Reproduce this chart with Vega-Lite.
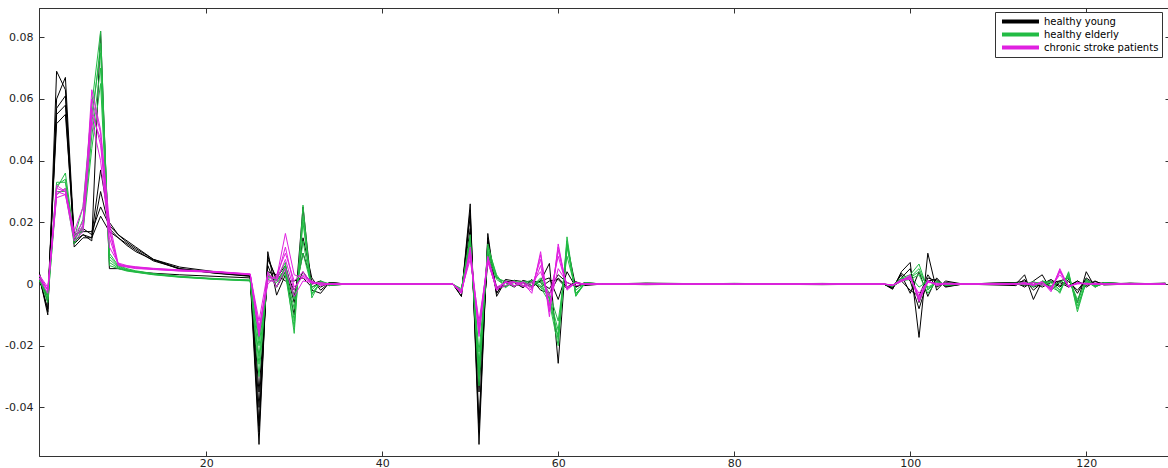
{
"$schema":"https://vega.github.io/schema/vega-lite/v6.json",
"width":1131,"height":448,
"autosize":{"type":"none"},
"padding":{"left":39,"top":8,"right":0,"bottom":12},
"background":"#ffffff",
"datasets":{
"subjects":[
{"s":"y1","group":"healthy young"},{"s":"y2","group":"healthy young"},{"s":"y3","group":"healthy young"},{"s":"y4","group":"healthy young"},{"s":"y5","group":"healthy young"},
{"s":"e1","group":"healthy elderly"},{"s":"e2","group":"healthy elderly"},{"s":"e3","group":"healthy elderly"},{"s":"e4","group":"healthy elderly"},{"s":"e5","group":"healthy elderly"},
{"s":"c1","group":"chronic stroke patients"},{"s":"c2","group":"chronic stroke patients"},{"s":"c3","group":"chronic stroke patients"},{"s":"c4","group":"chronic stroke patients"},{"s":"c5","group":"chronic stroke patients"}
],
"curves":[
{"s":"y1","x":1,"y":0.003},{"s":"y1","x":2,"y":-0.010},{"s":"y1","x":3,"y":0.069},{"s":"y1","x":4,"y":0.063},{"s":"y1","x":5,"y":0.013},{"s":"y1","x":6,"y":0.016},{"s":"y1","x":7,"y":0.014},{"s":"y1","x":8,"y":0.082},{"s":"y1","x":9,"y":0.005},{"s":"y1","x":10,"y":0.005},{"s":"y1","x":11,"y":0.0045},{"s":"y1","x":12,"y":0.004},{"s":"y1","x":14,"y":0.0035},{"s":"y1","x":17,"y":0.003},{"s":"y1","x":21,"y":0.0025},{"s":"y1","x":25,"y":0.002},{"s":"y1","x":26,"y":-0.052},{"s":"y1","x":27,"y":0.0105},{"s":"y1","x":28,"y":-0.0036},{"s":"y1","x":29,"y":0.003},{"s":"y1","x":30,"y":-0.010},{"s":"y1","x":31,"y":0.025},{"s":"y1","x":32,"y":-0.002},{"s":"y1","x":33,"y":-0.003},{"s":"y1","x":34,"y":0.0005},{"s":"y1","x":36,"y":0},{"s":"y1","x":47,"y":0},{"s":"y1","x":48,"y":0.0002},{"s":"y1","x":49,"y":-0.004},{"s":"y1","x":50,"y":0.026},{"s":"y1","x":51,"y":-0.052},{"s":"y1","x":52,"y":0.0164},{"s":"y1","x":53,"y":-0.004},{"s":"y1","x":54,"y":0.001},{"s":"y1","x":55,"y":-0.0008},{"s":"y1","x":56,"y":0.0005},{"s":"y1","x":57,"y":-0.001},{"s":"y1","x":58,"y":0.001},{"s":"y1","x":59,"y":0.0067},{"s":"y1","x":60,"y":-0.0257},{"s":"y1","x":61,"y":0.013},{"s":"y1","x":62,"y":-0.001},{"s":"y1","x":63,"y":0.0005},{"s":"y1","x":65,"y":0},{"s":"y1","x":70,"y":0.0003},{"s":"y1","x":80,"y":0},{"s":"y1","x":90,"y":0.0002},{"s":"y1","x":97,"y":0},{"s":"y1","x":98,"y":-0.0017},{"s":"y1","x":99,"y":0.004},{"s":"y1","x":100,"y":0.007},{"s":"y1","x":101,"y":-0.0173},{"s":"y1","x":102,"y":0.010},{"s":"y1","x":103,"y":-0.002},{"s":"y1","x":104,"y":0.001},{"s":"y1","x":106,"y":0},{"s":"y1","x":112,"y":0},{"s":"y1","x":113,"y":0.003},{"s":"y1","x":114,"y":-0.005},{"s":"y1","x":115,"y":0.001},{"s":"y1","x":116,"y":-0.001},{"s":"y1","x":117,"y":0.001},{"s":"y1","x":118,"y":0.002},{"s":"y1","x":119,"y":-0.006},{"s":"y1","x":120,"y":0.004},{"s":"y1","x":121,"y":-0.001},{"s":"y1","x":122,"y":0.0005},{"s":"y1","x":125,"y":0},{"s":"y1","x":129,"y":0.0003},
{"s":"y2","x":1,"y":0.002},{"s":"y2","x":2,"y":-0.008},{"s":"y2","x":3,"y":0.060},{"s":"y2","x":4,"y":0.067},{"s":"y2","x":5,"y":0.015},{"s":"y2","x":6,"y":0.018},{"s":"y2","x":7,"y":0.016},{"s":"y2","x":8,"y":0.037},{"s":"y2","x":9,"y":0.020},{"s":"y2","x":10,"y":0.016},{"s":"y2","x":11,"y":0.014},{"s":"y2","x":12,"y":0.012},{"s":"y2","x":14,"y":0.008},{"s":"y2","x":17,"y":0.0055},{"s":"y2","x":21,"y":0.004},{"s":"y2","x":25,"y":0.003},{"s":"y2","x":26,"y":-0.046},{"s":"y2","x":27,"y":0.008},{"s":"y2","x":28,"y":0.002},{"s":"y2","x":29,"y":0.006},{"s":"y2","x":30,"y":-0.004},{"s":"y2","x":31,"y":0.010},{"s":"y2","x":32,"y":0.001},{"s":"y2","x":33,"y":-0.001},{"s":"y2","x":34,"y":0.0005},{"s":"y2","x":36,"y":0},{"s":"y2","x":47,"y":0},{"s":"y2","x":48,"y":0},{"s":"y2","x":49,"y":-0.003},{"s":"y2","x":50,"y":0.022},{"s":"y2","x":51,"y":-0.045},{"s":"y2","x":52,"y":0.014},{"s":"y2","x":53,"y":-0.003},{"s":"y2","x":54,"y":0.0015},{"s":"y2","x":55,"y":0.001},{"s":"y2","x":56,"y":-0.001},{"s":"y2","x":57,"y":0.0015},{"s":"y2","x":58,"y":-0.002},{"s":"y2","x":59,"y":-0.003},{"s":"y2","x":60,"y":0.002},{"s":"y2","x":61,"y":-0.001},{"s":"y2","x":62,"y":0.0008},{"s":"y2","x":63,"y":-0.0005},{"s":"y2","x":65,"y":0},{"s":"y2","x":70,"y":0},{"s":"y2","x":80,"y":0.0002},{"s":"y2","x":90,"y":0},{"s":"y2","x":97,"y":0},{"s":"y2","x":98,"y":-0.001},{"s":"y2","x":99,"y":0.003},{"s":"y2","x":100,"y":-0.003},{"s":"y2","x":101,"y":0.004},{"s":"y2","x":102,"y":-0.004},{"s":"y2","x":103,"y":0.002},{"s":"y2","x":104,"y":-0.001},{"s":"y2","x":106,"y":0},{"s":"y2","x":112,"y":0.0005},{"s":"y2","x":113,"y":-0.001},{"s":"y2","x":114,"y":0.001},{"s":"y2","x":115,"y":0.003},{"s":"y2","x":116,"y":-0.002},{"s":"y2","x":117,"y":0.0005},{"s":"y2","x":118,"y":-0.001},{"s":"y2","x":119,"y":0.001},{"s":"y2","x":120,"y":-0.001},{"s":"y2","x":121,"y":0.0008},{"s":"y2","x":122,"y":0},{"s":"y2","x":125,"y":0.0003},{"s":"y2","x":129,"y":0},
{"s":"y3","x":1,"y":0.004},{"s":"y3","x":2,"y":-0.006},{"s":"y3","x":3,"y":0.055},{"s":"y3","x":4,"y":0.058},{"s":"y3","x":5,"y":0.012},{"s":"y3","x":6,"y":0.015},{"s":"y3","x":7,"y":0.015},{"s":"y3","x":8,"y":0.030},{"s":"y3","x":9,"y":0.018},{"s":"y3","x":10,"y":0.015},{"s":"y3","x":11,"y":0.013},{"s":"y3","x":12,"y":0.011},{"s":"y3","x":14,"y":0.0075},{"s":"y3","x":17,"y":0.005},{"s":"y3","x":21,"y":0.0035},{"s":"y3","x":25,"y":0.0025},{"s":"y3","x":26,"y":-0.040},{"s":"y3","x":27,"y":0.006},{"s":"y3","x":28,"y":-0.001},{"s":"y3","x":29,"y":0.004},{"s":"y3","x":30,"y":-0.002},{"s":"y3","x":31,"y":0.004},{"s":"y3","x":32,"y":0},{"s":"y3","x":33,"y":0.001},{"s":"y3","x":34,"y":-0.0005},{"s":"y3","x":36,"y":0},{"s":"y3","x":47,"y":0},{"s":"y3","x":48,"y":0},{"s":"y3","x":49,"y":-0.002},{"s":"y3","x":50,"y":0.018},{"s":"y3","x":51,"y":-0.035},{"s":"y3","x":52,"y":0.010},{"s":"y3","x":53,"y":-0.001},{"s":"y3","x":54,"y":-0.0008},{"s":"y3","x":55,"y":0.0012},{"s":"y3","x":56,"y":0.0008},{"s":"y3","x":57,"y":-0.0005},{"s":"y3","x":58,"y":0.001},{"s":"y3","x":59,"y":0.002},{"s":"y3","x":60,"y":-0.005},{"s":"y3","x":61,"y":0.004},{"s":"y3","x":62,"y":-0.001},{"s":"y3","x":63,"y":0.0003},{"s":"y3","x":65,"y":0},{"s":"y3","x":70,"y":0.0002},{"s":"y3","x":80,"y":0},{"s":"y3","x":90,"y":-0.0002},{"s":"y3","x":97,"y":0},{"s":"y3","x":98,"y":-0.0012},{"s":"y3","x":99,"y":0.002},{"s":"y3","x":100,"y":0.005},{"s":"y3","x":101,"y":-0.006},{"s":"y3","x":102,"y":0.002},{"s":"y3","x":103,"y":0.001},{"s":"y3","x":104,"y":-0.0005},{"s":"y3","x":106,"y":0},{"s":"y3","x":112,"y":-0.0005},{"s":"y3","x":113,"y":0.0015},{"s":"y3","x":114,"y":-0.002},{"s":"y3","x":115,"y":0.0005},{"s":"y3","x":116,"y":0.001},{"s":"y3","x":117,"y":-0.001},{"s":"y3","x":118,"y":0.0015},{"s":"y3","x":119,"y":-0.003},{"s":"y3","x":120,"y":0.002},{"s":"y3","x":121,"y":0},{"s":"y3","x":122,"y":0.0004},{"s":"y3","x":125,"y":0},{"s":"y3","x":129,"y":0},
{"s":"y4","x":1,"y":0.001},{"s":"y4","x":2,"y":-0.004},{"s":"y4","x":3,"y":0.052},{"s":"y4","x":4,"y":0.055},{"s":"y4","x":5,"y":0.016},{"s":"y4","x":6,"y":0.017},{"s":"y4","x":7,"y":0.017},{"s":"y4","x":8,"y":0.025},{"s":"y4","x":9,"y":0.019},{"s":"y4","x":10,"y":0.016},{"s":"y4","x":11,"y":0.0135},{"s":"y4","x":12,"y":0.0115},{"s":"y4","x":14,"y":0.008},{"s":"y4","x":17,"y":0.005},{"s":"y4","x":21,"y":0.0038},{"s":"y4","x":25,"y":0.0028},{"s":"y4","x":26,"y":-0.035},{"s":"y4","x":27,"y":0.004},{"s":"y4","x":28,"y":0.003},{"s":"y4","x":29,"y":0.001},{"s":"y4","x":30,"y":0.001},{"s":"y4","x":31,"y":0.002},{"s":"y4","x":32,"y":-0.001},{"s":"y4","x":33,"y":0.0005},{"s":"y4","x":34,"y":0},{"s":"y4","x":36,"y":0},{"s":"y4","x":47,"y":0},{"s":"y4","x":48,"y":0},{"s":"y4","x":49,"y":-0.003},{"s":"y4","x":50,"y":0.015},{"s":"y4","x":51,"y":-0.030},{"s":"y4","x":52,"y":0.008},{"s":"y4","x":53,"y":-0.002},{"s":"y4","x":54,"y":0.0005},{"s":"y4","x":55,"y":-0.001},{"s":"y4","x":56,"y":0.0012},{"s":"y4","x":57,"y":0.0004},{"s":"y4","x":58,"y":-0.001},{"s":"y4","x":59,"y":0.001},{"s":"y4","x":60,"y":0.0015},{"s":"y4","x":61,"y":-0.0015},{"s":"y4","x":62,"y":0.0005},{"s":"y4","x":63,"y":0},{"s":"y4","x":65,"y":0},{"s":"y4","x":70,"y":0},{"s":"y4","x":80,"y":0},{"s":"y4","x":90,"y":0.0001},{"s":"y4","x":97,"y":0},{"s":"y4","x":98,"y":-0.0008},{"s":"y4","x":99,"y":0.001},{"s":"y4","x":100,"y":-0.002},{"s":"y4","x":101,"y":-0.004},{"s":"y4","x":102,"y":0.003},{"s":"y4","x":103,"y":-0.001},{"s":"y4","x":104,"y":0.0005},{"s":"y4","x":106,"y":0},{"s":"y4","x":112,"y":0.0005},{"s":"y4","x":113,"y":0.001},{"s":"y4","x":114,"y":-0.001},{"s":"y4","x":115,"y":0},{"s":"y4","x":116,"y":0.0015},{"s":"y4","x":117,"y":-0.0005},{"s":"y4","x":118,"y":0.0008},{"s":"y4","x":119,"y":-0.002},{"s":"y4","x":120,"y":0.0015},{"s":"y4","x":121,"y":-0.0005},{"s":"y4","x":122,"y":0},{"s":"y4","x":125,"y":0.0002},{"s":"y4","x":129,"y":0},
{"s":"y5","x":1,"y":0.003},{"s":"y5","x":2,"y":-0.009},{"s":"y5","x":3,"y":0.057},{"s":"y5","x":4,"y":0.061},{"s":"y5","x":5,"y":0.014},{"s":"y5","x":6,"y":0.016},{"s":"y5","x":7,"y":0.015},{"s":"y5","x":8,"y":0.022},{"s":"y5","x":9,"y":0.017},{"s":"y5","x":10,"y":0.015},{"s":"y5","x":11,"y":0.0125},{"s":"y5","x":12,"y":0.0105},{"s":"y5","x":14,"y":0.0078},{"s":"y5","x":17,"y":0.0048},{"s":"y5","x":21,"y":0.0036},{"s":"y5","x":25,"y":0.0026},{"s":"y5","x":26,"y":-0.048},{"s":"y5","x":27,"y":0.009},{"s":"y5","x":28,"y":0.001},{"s":"y5","x":29,"y":0.005},{"s":"y5","x":30,"y":-0.006},{"s":"y5","x":31,"y":0.015},{"s":"y5","x":32,"y":0.002},{"s":"y5","x":33,"y":-0.002},{"s":"y5","x":34,"y":0.0004},{"s":"y5","x":36,"y":0},{"s":"y5","x":47,"y":0},{"s":"y5","x":48,"y":0.0001},{"s":"y5","x":49,"y":-0.004},{"s":"y5","x":50,"y":0.024},{"s":"y5","x":51,"y":-0.048},{"s":"y5","x":52,"y":0.015},{"s":"y5","x":53,"y":-0.003},{"s":"y5","x":54,"y":0.001},{"s":"y5","x":55,"y":0.0005},{"s":"y5","x":56,"y":-0.0012},{"s":"y5","x":57,"y":0.001},{"s":"y5","x":58,"y":0.0005},{"s":"y5","x":59,"y":-0.0015},{"s":"y5","x":60,"y":0.003},{"s":"y5","x":61,"y":0.0005},{"s":"y5","x":62,"y":-0.0008},{"s":"y5","x":63,"y":0.0002},{"s":"y5","x":65,"y":0},{"s":"y5","x":70,"y":-0.0002},{"s":"y5","x":80,"y":0.0001},{"s":"y5","x":90,"y":0},{"s":"y5","x":97,"y":0},{"s":"y5","x":98,"y":-0.0015},{"s":"y5","x":99,"y":0.0035},{"s":"y5","x":100,"y":0.001},{"s":"y5","x":101,"y":-0.008},{"s":"y5","x":102,"y":0.001},{"s":"y5","x":103,"y":0.0015},{"s":"y5","x":104,"y":-0.0008},{"s":"y5","x":106,"y":0},{"s":"y5","x":112,"y":0},{"s":"y5","x":113,"y":-0.0005},{"s":"y5","x":114,"y":0.0005},{"s":"y5","x":115,"y":-0.001},{"s":"y5","x":116,"y":0.0005},{"s":"y5","x":117,"y":0.001},{"s":"y5","x":118,"y":-0.0005},{"s":"y5","x":119,"y":0.001},{"s":"y5","x":120,"y":-0.0005},{"s":"y5","x":121,"y":0.001},{"s":"y5","x":122,"y":-0.0003},{"s":"y5","x":125,"y":0},{"s":"y5","x":129,"y":0.0002},
{"s":"e1","x":1,"y":0.002},{"s":"e1","x":2,"y":-0.006},{"s":"e1","x":3,"y":0.031},{"s":"e1","x":4,"y":0.036},{"s":"e1","x":5,"y":0.015},{"s":"e1","x":6,"y":0.025},{"s":"e1","x":7,"y":0.058},{"s":"e1","x":8,"y":0.082},{"s":"e1","x":9,"y":0.006},{"s":"e1","x":10,"y":0.005},{"s":"e1","x":11,"y":0.0042},{"s":"e1","x":12,"y":0.0038},{"s":"e1","x":14,"y":0.003},{"s":"e1","x":17,"y":0.0022},{"s":"e1","x":21,"y":0.0015},{"s":"e1","x":25,"y":0.001},{"s":"e1","x":26,"y":-0.0235},{"s":"e1","x":27,"y":0.003},{"s":"e1","x":28,"y":0.001},{"s":"e1","x":29,"y":0.005},{"s":"e1","x":30,"y":-0.016},{"s":"e1","x":31,"y":0.0256},{"s":"e1","x":32,"y":-0.0045},{"s":"e1","x":33,"y":0.001},{"s":"e1","x":34,"y":-0.0005},{"s":"e1","x":36,"y":0},{"s":"e1","x":47,"y":0},{"s":"e1","x":48,"y":0},{"s":"e1","x":49,"y":-0.002},{"s":"e1","x":50,"y":0.015},{"s":"e1","x":51,"y":-0.030},{"s":"e1","x":52,"y":0.012},{"s":"e1","x":53,"y":0.003},{"s":"e1","x":54,"y":-0.001},{"s":"e1","x":55,"y":0.0012},{"s":"e1","x":56,"y":-0.0005},{"s":"e1","x":57,"y":0.0008},{"s":"e1","x":58,"y":-0.001},{"s":"e1","x":59,"y":-0.006},{"s":"e1","x":60,"y":-0.020},{"s":"e1","x":61,"y":0.0153},{"s":"e1","x":62,"y":-0.004},{"s":"e1","x":63,"y":0.0005},{"s":"e1","x":65,"y":0},{"s":"e1","x":70,"y":0},{"s":"e1","x":80,"y":0.0002},{"s":"e1","x":90,"y":0},{"s":"e1","x":97,"y":0},{"s":"e1","x":98,"y":-0.0005},{"s":"e1","x":99,"y":0.002},{"s":"e1","x":100,"y":0.003},{"s":"e1","x":101,"y":0.0065},{"s":"e1","x":102,"y":-0.002},{"s":"e1","x":103,"y":0.0008},{"s":"e1","x":104,"y":-0.0005},{"s":"e1","x":106,"y":0},{"s":"e1","x":112,"y":0},{"s":"e1","x":113,"y":0.0005},{"s":"e1","x":114,"y":-0.001},{"s":"e1","x":115,"y":0.001},{"s":"e1","x":116,"y":0.0005},{"s":"e1","x":117,"y":-0.003},{"s":"e1","x":118,"y":0.004},{"s":"e1","x":119,"y":-0.009},{"s":"e1","x":120,"y":0.001},{"s":"e1","x":121,"y":-0.001},{"s":"e1","x":122,"y":0.0005},{"s":"e1","x":125,"y":0},{"s":"e1","x":129,"y":0},
{"s":"e2","x":1,"y":0.003},{"s":"e2","x":2,"y":-0.004},{"s":"e2","x":3,"y":0.033},{"s":"e2","x":4,"y":0.033},{"s":"e2","x":5,"y":0.014},{"s":"e2","x":6,"y":0.019},{"s":"e2","x":7,"y":0.052},{"s":"e2","x":8,"y":0.078},{"s":"e2","x":9,"y":0.008},{"s":"e2","x":10,"y":0.0055},{"s":"e2","x":11,"y":0.0045},{"s":"e2","x":12,"y":0.004},{"s":"e2","x":14,"y":0.0032},{"s":"e2","x":17,"y":0.0024},{"s":"e2","x":21,"y":0.0016},{"s":"e2","x":25,"y":0.0012},{"s":"e2","x":26,"y":-0.020},{"s":"e2","x":27,"y":0.002},{"s":"e2","x":28,"y":0.002},{"s":"e2","x":29,"y":0.007},{"s":"e2","x":30,"y":-0.012},{"s":"e2","x":31,"y":0.020},{"s":"e2","x":32,"y":-0.003},{"s":"e2","x":33,"y":0.0005},{"s":"e2","x":34,"y":0},{"s":"e2","x":36,"y":0},{"s":"e2","x":47,"y":0},{"s":"e2","x":48,"y":0},{"s":"e2","x":49,"y":-0.0025},{"s":"e2","x":50,"y":0.013},{"s":"e2","x":51,"y":-0.026},{"s":"e2","x":52,"y":0.010},{"s":"e2","x":53,"y":0.002},{"s":"e2","x":54,"y":0.0005},{"s":"e2","x":55,"y":-0.0008},{"s":"e2","x":56,"y":0.001},{"s":"e2","x":57,"y":-0.0005},{"s":"e2","x":58,"y":0.0015},{"s":"e2","x":59,"y":-0.004},{"s":"e2","x":60,"y":-0.015},{"s":"e2","x":61,"y":0.012},{"s":"e2","x":62,"y":-0.003},{"s":"e2","x":63,"y":0},{"s":"e2","x":65,"y":0},{"s":"e2","x":70,"y":0.0001},{"s":"e2","x":80,"y":0},{"s":"e2","x":90,"y":0.0001},{"s":"e2","x":97,"y":0},{"s":"e2","x":98,"y":-0.0008},{"s":"e2","x":99,"y":0.0015},{"s":"e2","x":100,"y":0.002},{"s":"e2","x":101,"y":0.004},{"s":"e2","x":102,"y":-0.001},{"s":"e2","x":103,"y":0.0005},{"s":"e2","x":104,"y":0},{"s":"e2","x":106,"y":0},{"s":"e2","x":112,"y":0.0003},{"s":"e2","x":113,"y":0},{"s":"e2","x":114,"y":0.0008},{"s":"e2","x":115,"y":-0.0005},{"s":"e2","x":116,"y":0.001},{"s":"e2","x":117,"y":-0.002},{"s":"e2","x":118,"y":0.003},{"s":"e2","x":119,"y":-0.007},{"s":"e2","x":120,"y":0.0005},{"s":"e2","x":121,"y":0},{"s":"e2","x":122,"y":0.0003},{"s":"e2","x":125,"y":0},{"s":"e2","x":129,"y":0},
{"s":"e3","x":1,"y":0.001},{"s":"e3","x":2,"y":-0.003},{"s":"e3","x":3,"y":0.030},{"s":"e3","x":4,"y":0.030},{"s":"e3","x":5,"y":0.013},{"s":"e3","x":6,"y":0.018},{"s":"e3","x":7,"y":0.048},{"s":"e3","x":8,"y":0.070},{"s":"e3","x":9,"y":0.010},{"s":"e3","x":10,"y":0.006},{"s":"e3","x":11,"y":0.005},{"s":"e3","x":12,"y":0.0043},{"s":"e3","x":14,"y":0.0034},{"s":"e3","x":17,"y":0.0025},{"s":"e3","x":21,"y":0.0018},{"s":"e3","x":25,"y":0.0013},{"s":"e3","x":26,"y":-0.018},{"s":"e3","x":27,"y":0.0015},{"s":"e3","x":28,"y":0.0005},{"s":"e3","x":29,"y":0.004},{"s":"e3","x":30,"y":-0.008},{"s":"e3","x":31,"y":0.014},{"s":"e3","x":32,"y":-0.002},{"s":"e3","x":33,"y":0.001},{"s":"e3","x":34,"y":0},{"s":"e3","x":36,"y":0},{"s":"e3","x":47,"y":0},{"s":"e3","x":48,"y":0},{"s":"e3","x":49,"y":-0.0015},{"s":"e3","x":50,"y":0.012},{"s":"e3","x":51,"y":-0.022},{"s":"e3","x":52,"y":0.009},{"s":"e3","x":53,"y":0.0015},{"s":"e3","x":54,"y":-0.0005},{"s":"e3","x":55,"y":0.0005},{"s":"e3","x":56,"y":0.0008},{"s":"e3","x":57,"y":-0.001},{"s":"e3","x":58,"y":0.002},{"s":"e3","x":59,"y":-0.003},{"s":"e3","x":60,"y":-0.012},{"s":"e3","x":61,"y":0.009},{"s":"e3","x":62,"y":-0.002},{"s":"e3","x":63,"y":0.0003},{"s":"e3","x":65,"y":0},{"s":"e3","x":70,"y":0},{"s":"e3","x":80,"y":-0.0001},{"s":"e3","x":90,"y":0},{"s":"e3","x":97,"y":0},{"s":"e3","x":98,"y":-0.0006},{"s":"e3","x":99,"y":0.001},{"s":"e3","x":100,"y":0.0015},{"s":"e3","x":101,"y":0.003},{"s":"e3","x":102,"y":-0.003},{"s":"e3","x":103,"y":0.001},{"s":"e3","x":104,"y":-0.0003},{"s":"e3","x":106,"y":0},{"s":"e3","x":112,"y":0},{"s":"e3","x":113,"y":0.0006},{"s":"e3","x":114,"y":-0.0004},{"s":"e3","x":115,"y":0.0008},{"s":"e3","x":116,"y":-0.0005},{"s":"e3","x":117,"y":0.0005},{"s":"e3","x":118,"y":0.002},{"s":"e3","x":119,"y":-0.005},{"s":"e3","x":120,"y":0.0012},{"s":"e3","x":121,"y":-0.0005},{"s":"e3","x":122,"y":0},{"s":"e3","x":125,"y":0.0002},{"s":"e3","x":129,"y":0},
{"s":"e4","x":1,"y":0.002},{"s":"e4","x":2,"y":-0.005},{"s":"e4","x":3,"y":0.029},{"s":"e4","x":4,"y":0.031},{"s":"e4","x":5,"y":0.016},{"s":"e4","x":6,"y":0.017},{"s":"e4","x":7,"y":0.044},{"s":"e4","x":8,"y":0.065},{"s":"e4","x":9,"y":0.007},{"s":"e4","x":10,"y":0.0052},{"s":"e4","x":11,"y":0.0044},{"s":"e4","x":12,"y":0.0039},{"s":"e4","x":14,"y":0.0031},{"s":"e4","x":17,"y":0.0023},{"s":"e4","x":21,"y":0.0016},{"s":"e4","x":25,"y":0.0011},{"s":"e4","x":26,"y":-0.030},{"s":"e4","x":27,"y":0.004},{"s":"e4","x":28,"y":-0.001},{"s":"e4","x":29,"y":0.006},{"s":"e4","x":30,"y":-0.005},{"s":"e4","x":31,"y":0.010},{"s":"e4","x":32,"y":-0.001},{"s":"e4","x":33,"y":0},{"s":"e4","x":34,"y":0.0003},{"s":"e4","x":36,"y":0},{"s":"e4","x":47,"y":0},{"s":"e4","x":48,"y":0},{"s":"e4","x":49,"y":-0.002},{"s":"e4","x":50,"y":0.014},{"s":"e4","x":51,"y":-0.028},{"s":"e4","x":52,"y":0.011},{"s":"e4","x":53,"y":0.0025},{"s":"e4","x":54,"y":-0.0012},{"s":"e4","x":55,"y":0.0008},{"s":"e4","x":56,"y":-0.0008},{"s":"e4","x":57,"y":0.0006},{"s":"e4","x":58,"y":0.0005},{"s":"e4","x":59,"y":-0.005},{"s":"e4","x":60,"y":-0.017},{"s":"e4","x":61,"y":0.013},{"s":"e4","x":62,"y":-0.0035},{"s":"e4","x":63,"y":0.0004},{"s":"e4","x":65,"y":0},{"s":"e4","x":70,"y":0.0002},{"s":"e4","x":80,"y":0},{"s":"e4","x":90,"y":0},{"s":"e4","x":97,"y":0},{"s":"e4","x":98,"y":-0.0004},{"s":"e4","x":99,"y":0.0012},{"s":"e4","x":100,"y":0.0025},{"s":"e4","x":101,"y":-0.001},{"s":"e4","x":102,"y":0.001},{"s":"e4","x":103,"y":-0.0005},{"s":"e4","x":104,"y":0.0003},{"s":"e4","x":106,"y":0},{"s":"e4","x":112,"y":0},{"s":"e4","x":113,"y":-0.0003},{"s":"e4","x":114,"y":0.0006},{"s":"e4","x":115,"y":0.0003},{"s":"e4","x":116,"y":-0.001},{"s":"e4","x":117,"y":-0.0025},{"s":"e4","x":118,"y":0.0035},{"s":"e4","x":119,"y":-0.008},{"s":"e4","x":120,"y":0.0008},{"s":"e4","x":121,"y":-0.0008},{"s":"e4","x":122,"y":0.0002},{"s":"e4","x":125,"y":0},{"s":"e4","x":129,"y":0},
{"s":"e5","x":1,"y":0.002},{"s":"e5","x":2,"y":-0.004},{"s":"e5","x":3,"y":0.032},{"s":"e5","x":4,"y":0.034},{"s":"e5","x":5,"y":0.014},{"s":"e5","x":6,"y":0.021},{"s":"e5","x":7,"y":0.055},{"s":"e5","x":8,"y":0.075},{"s":"e5","x":9,"y":0.009},{"s":"e5","x":10,"y":0.0058},{"s":"e5","x":11,"y":0.0047},{"s":"e5","x":12,"y":0.0041},{"s":"e5","x":14,"y":0.0033},{"s":"e5","x":17,"y":0.0024},{"s":"e5","x":21,"y":0.0017},{"s":"e5","x":25,"y":0.0012},{"s":"e5","x":26,"y":-0.026},{"s":"e5","x":27,"y":0.0025},{"s":"e5","x":28,"y":0.0015},{"s":"e5","x":29,"y":0.003},{"s":"e5","x":30,"y":-0.014},{"s":"e5","x":31,"y":0.022},{"s":"e5","x":32,"y":-0.0035},{"s":"e5","x":33,"y":0.0008},{"s":"e5","x":34,"y":0},{"s":"e5","x":36,"y":0},{"s":"e5","x":47,"y":0},{"s":"e5","x":48,"y":0},{"s":"e5","x":49,"y":-0.002},{"s":"e5","x":50,"y":0.016},{"s":"e5","x":51,"y":-0.033},{"s":"e5","x":52,"y":0.013},{"s":"e5","x":53,"y":0.002},{"s":"e5","x":54,"y":0.0008},{"s":"e5","x":55,"y":-0.0005},{"s":"e5","x":56,"y":0.0005},{"s":"e5","x":57,"y":0.0012},{"s":"e5","x":58,"y":-0.0005},{"s":"e5","x":59,"y":-0.0045},{"s":"e5","x":60,"y":-0.018},{"s":"e5","x":61,"y":0.014},{"s":"e5","x":62,"y":-0.0038},{"s":"e5","x":63,"y":0},{"s":"e5","x":65,"y":0},{"s":"e5","x":70,"y":0},{"s":"e5","x":80,"y":0.0001},{"s":"e5","x":90,"y":0},{"s":"e5","x":97,"y":0},{"s":"e5","x":98,"y":-0.0006},{"s":"e5","x":99,"y":0.0018},{"s":"e5","x":100,"y":0.0022},{"s":"e5","x":101,"y":0.005},{"s":"e5","x":102,"y":-0.0015},{"s":"e5","x":103,"y":0.0006},{"s":"e5","x":104,"y":-0.0002},{"s":"e5","x":106,"y":0},{"s":"e5","x":112,"y":0.0002},{"s":"e5","x":113,"y":0.0002},{"s":"e5","x":114,"y":-0.0006},{"s":"e5","x":115,"y":0.0005},{"s":"e5","x":116,"y":0.0008},{"s":"e5","x":117,"y":-0.002},{"s":"e5","x":118,"y":0.0025},{"s":"e5","x":119,"y":-0.006},{"s":"e5","x":120,"y":0.0015},{"s":"e5","x":121,"y":-0.0004},{"s":"e5","x":122,"y":0},{"s":"e5","x":125,"y":0},{"s":"e5","x":129,"y":0.0002},
{"s":"c1","x":1,"y":0.003},{"s":"c1","x":2,"y":-0.002},{"s":"c1","x":3,"y":0.032},{"s":"c1","x":4,"y":0.030},{"s":"c1","x":5,"y":0.015},{"s":"c1","x":6,"y":0.018},{"s":"c1","x":7,"y":0.063},{"s":"c1","x":8,"y":0.050},{"s":"c1","x":9,"y":0.020},{"s":"c1","x":10,"y":0.0065},{"s":"c1","x":11,"y":0.0058},{"s":"c1","x":12,"y":0.0055},{"s":"c1","x":14,"y":0.005},{"s":"c1","x":17,"y":0.0045},{"s":"c1","x":21,"y":0.004},{"s":"c1","x":25,"y":0.0032},{"s":"c1","x":26,"y":-0.017},{"s":"c1","x":27,"y":0.002},{"s":"c1","x":28,"y":0.002},{"s":"c1","x":29,"y":0.0164},{"s":"c1","x":30,"y":0.003},{"s":"c1","x":31,"y":0.002},{"s":"c1","x":32,"y":0.0005},{"s":"c1","x":33,"y":0},{"s":"c1","x":34,"y":0},{"s":"c1","x":36,"y":0},{"s":"c1","x":47,"y":0},{"s":"c1","x":48,"y":0},{"s":"c1","x":49,"y":-0.003},{"s":"c1","x":50,"y":0.012},{"s":"c1","x":51,"y":-0.017},{"s":"c1","x":52,"y":0.008},{"s":"c1","x":53,"y":-0.002},{"s":"c1","x":54,"y":0.0008},{"s":"c1","x":55,"y":-0.0005},{"s":"c1","x":56,"y":0.0005},{"s":"c1","x":57,"y":-0.003},{"s":"c1","x":58,"y":0.0105},{"s":"c1","x":59,"y":-0.0106},{"s":"c1","x":60,"y":0.013},{"s":"c1","x":61,"y":-0.002},{"s":"c1","x":62,"y":0.0005},{"s":"c1","x":63,"y":0},{"s":"c1","x":65,"y":0},{"s":"c1","x":70,"y":0},{"s":"c1","x":80,"y":0},{"s":"c1","x":90,"y":0},{"s":"c1","x":97,"y":0},{"s":"c1","x":98,"y":-0.0005},{"s":"c1","x":99,"y":0.001},{"s":"c1","x":100,"y":0.003},{"s":"c1","x":101,"y":-0.0057},{"s":"c1","x":102,"y":0.0008},{"s":"c1","x":103,"y":0},{"s":"c1","x":104,"y":0.0003},{"s":"c1","x":106,"y":0},{"s":"c1","x":112,"y":0},{"s":"c1","x":113,"y":0.0005},{"s":"c1","x":114,"y":-0.0005},{"s":"c1","x":115,"y":0.0008},{"s":"c1","x":116,"y":-0.0025},{"s":"c1","x":117,"y":0.005},{"s":"c1","x":118,"y":-0.001},{"s":"c1","x":119,"y":0.0005},{"s":"c1","x":120,"y":0},{"s":"c1","x":121,"y":0.0003},{"s":"c1","x":122,"y":0},{"s":"c1","x":125,"y":0},{"s":"c1","x":129,"y":0},
{"s":"c2","x":1,"y":0.002},{"s":"c2","x":2,"y":-0.003},{"s":"c2","x":3,"y":0.030},{"s":"c2","x":4,"y":0.029},{"s":"c2","x":5,"y":0.016},{"s":"c2","x":6,"y":0.020},{"s":"c2","x":7,"y":0.057},{"s":"c2","x":8,"y":0.045},{"s":"c2","x":9,"y":0.018},{"s":"c2","x":10,"y":0.006},{"s":"c2","x":11,"y":0.0055},{"s":"c2","x":12,"y":0.005},{"s":"c2","x":14,"y":0.0048},{"s":"c2","x":17,"y":0.0042},{"s":"c2","x":21,"y":0.0038},{"s":"c2","x":25,"y":0.003},{"s":"c2","x":26,"y":-0.014},{"s":"c2","x":27,"y":0.001},{"s":"c2","x":28,"y":0.001},{"s":"c2","x":29,"y":0.008},{"s":"c2","x":30,"y":-0.002},{"s":"c2","x":31,"y":0.003},{"s":"c2","x":32,"y":0.001},{"s":"c2","x":33,"y":-0.0005},{"s":"c2","x":34,"y":0},{"s":"c2","x":36,"y":0},{"s":"c2","x":47,"y":0},{"s":"c2","x":48,"y":0},{"s":"c2","x":49,"y":-0.0025},{"s":"c2","x":50,"y":0.010},{"s":"c2","x":51,"y":-0.015},{"s":"c2","x":52,"y":0.009},{"s":"c2","x":53,"y":-0.001},{"s":"c2","x":54,"y":0.0005},{"s":"c2","x":55,"y":0.0008},{"s":"c2","x":56,"y":-0.0008},{"s":"c2","x":57,"y":0.0005},{"s":"c2","x":58,"y":0.004},{"s":"c2","x":59,"y":-0.004},{"s":"c2","x":60,"y":0.009},{"s":"c2","x":61,"y":-0.001},{"s":"c2","x":62,"y":0.0003},{"s":"c2","x":63,"y":0},{"s":"c2","x":65,"y":0},{"s":"c2","x":70,"y":0},{"s":"c2","x":80,"y":0},{"s":"c2","x":90,"y":0},{"s":"c2","x":97,"y":0},{"s":"c2","x":98,"y":-0.0004},{"s":"c2","x":99,"y":0.0015},{"s":"c2","x":100,"y":0.0015},{"s":"c2","x":101,"y":-0.003},{"s":"c2","x":102,"y":0.001},{"s":"c2","x":103,"y":-0.0003},{"s":"c2","x":104,"y":0},{"s":"c2","x":106,"y":0},{"s":"c2","x":112,"y":0},{"s":"c2","x":113,"y":0},{"s":"c2","x":114,"y":0.0005},{"s":"c2","x":115,"y":-0.0003},{"s":"c2","x":116,"y":-0.001},{"s":"c2","x":117,"y":0.003},{"s":"c2","x":118,"y":-0.0005},{"s":"c2","x":119,"y":0},{"s":"c2","x":120,"y":0.0003},{"s":"c2","x":121,"y":0},{"s":"c2","x":122,"y":0},{"s":"c2","x":125,"y":0},{"s":"c2","x":129,"y":0},
{"s":"c3","x":1,"y":0.003},{"s":"c3","x":2,"y":-0.001},{"s":"c3","x":3,"y":0.028},{"s":"c3","x":4,"y":0.029},{"s":"c3","x":5,"y":0.014},{"s":"c3","x":6,"y":0.017},{"s":"c3","x":7,"y":0.053},{"s":"c3","x":8,"y":0.040},{"s":"c3","x":9,"y":0.015},{"s":"c3","x":10,"y":0.0062},{"s":"c3","x":11,"y":0.0056},{"s":"c3","x":12,"y":0.0052},{"s":"c3","x":14,"y":0.0047},{"s":"c3","x":17,"y":0.0043},{"s":"c3","x":21,"y":0.0039},{"s":"c3","x":25,"y":0.0031},{"s":"c3","x":26,"y":-0.012},{"s":"c3","x":27,"y":0.004},{"s":"c3","x":28,"y":-0.001},{"s":"c3","x":29,"y":0.005},{"s":"c3","x":30,"y":-0.004},{"s":"c3","x":31,"y":0.001},{"s":"c3","x":32,"y":0.0005},{"s":"c3","x":33,"y":0},{"s":"c3","x":34,"y":0},{"s":"c3","x":36,"y":0},{"s":"c3","x":47,"y":0},{"s":"c3","x":48,"y":0},{"s":"c3","x":49,"y":-0.002},{"s":"c3","x":50,"y":0.008},{"s":"c3","x":51,"y":-0.012},{"s":"c3","x":52,"y":0.007},{"s":"c3","x":53,"y":-0.0015},{"s":"c3","x":54,"y":-0.0005},{"s":"c3","x":55,"y":0.0005},{"s":"c3","x":56,"y":0.0003},{"s":"c3","x":57,"y":-0.0015},{"s":"c3","x":58,"y":0.006},{"s":"c3","x":59,"y":-0.007},{"s":"c3","x":60,"y":0.005},{"s":"c3","x":61,"y":0.0005},{"s":"c3","x":62,"y":-0.0005},{"s":"c3","x":63,"y":0},{"s":"c3","x":65,"y":0},{"s":"c3","x":70,"y":0},{"s":"c3","x":80,"y":0},{"s":"c3","x":90,"y":0},{"s":"c3","x":97,"y":0},{"s":"c3","x":98,"y":-0.0003},{"s":"c3","x":99,"y":0.0008},{"s":"c3","x":100,"y":0.002},{"s":"c3","x":101,"y":-0.004},{"s":"c3","x":102,"y":0.0005},{"s":"c3","x":103,"y":0.0003},{"s":"c3","x":104,"y":0},{"s":"c3","x":106,"y":0},{"s":"c3","x":112,"y":0.0002},{"s":"c3","x":113,"y":0},{"s":"c3","x":114,"y":-0.0003},{"s":"c3","x":115,"y":0.0005},{"s":"c3","x":116,"y":-0.002},{"s":"c3","x":117,"y":0.004},{"s":"c3","x":118,"y":-0.0008},{"s":"c3","x":119,"y":0.0003},{"s":"c3","x":120,"y":0},{"s":"c3","x":121,"y":0},{"s":"c3","x":122,"y":0},{"s":"c3","x":125,"y":0},{"s":"c3","x":129,"y":0},
{"s":"c4","x":1,"y":0.003},{"s":"c4","x":2,"y":-0.002},{"s":"c4","x":3,"y":0.031},{"s":"c4","x":4,"y":0.030},{"s":"c4","x":5,"y":0.017},{"s":"c4","x":6,"y":0.025},{"s":"c4","x":7,"y":0.055},{"s":"c4","x":8,"y":0.047},{"s":"c4","x":9,"y":0.012},{"s":"c4","x":10,"y":0.0068},{"s":"c4","x":11,"y":0.006},{"s":"c4","x":12,"y":0.0056},{"s":"c4","x":14,"y":0.0051},{"s":"c4","x":17,"y":0.0046},{"s":"c4","x":21,"y":0.0041},{"s":"c4","x":25,"y":0.0033},{"s":"c4","x":26,"y":-0.015},{"s":"c4","x":27,"y":0},{"s":"c4","x":28,"y":0.003},{"s":"c4","x":29,"y":0.010},{"s":"c4","x":30,"y":0.001},{"s":"c4","x":31,"y":0.004},{"s":"c4","x":32,"y":0},{"s":"c4","x":33,"y":0.0005},{"s":"c4","x":34,"y":0},{"s":"c4","x":36,"y":0},{"s":"c4","x":47,"y":0},{"s":"c4","x":48,"y":0},{"s":"c4","x":49,"y":-0.003},{"s":"c4","x":50,"y":0.011},{"s":"c4","x":51,"y":-0.014},{"s":"c4","x":52,"y":0.008},{"s":"c4","x":53,"y":-0.002},{"s":"c4","x":54,"y":0.001},{"s":"c4","x":55,"y":-0.0008},{"s":"c4","x":56,"y":0.0008},{"s":"c4","x":57,"y":-0.001},{"s":"c4","x":58,"y":0.008},{"s":"c4","x":59,"y":-0.009},{"s":"c4","x":60,"y":0.011},{"s":"c4","x":61,"y":-0.0015},{"s":"c4","x":62,"y":0.0004},{"s":"c4","x":63,"y":0},{"s":"c4","x":65,"y":0},{"s":"c4","x":70,"y":0},{"s":"c4","x":80,"y":0},{"s":"c4","x":90,"y":0},{"s":"c4","x":97,"y":0},{"s":"c4","x":98,"y":-0.0003},{"s":"c4","x":99,"y":0.0012},{"s":"c4","x":100,"y":0.0025},{"s":"c4","x":101,"y":-0.005},{"s":"c4","x":102,"y":0.0012},{"s":"c4","x":103,"y":-0.0005},{"s":"c4","x":104,"y":0.0002},{"s":"c4","x":106,"y":0},{"s":"c4","x":112,"y":0},{"s":"c4","x":113,"y":0.0003},{"s":"c4","x":114,"y":0},{"s":"c4","x":115,"y":0.0004},{"s":"c4","x":116,"y":-0.0015},{"s":"c4","x":117,"y":0.0045},{"s":"c4","x":118,"y":-0.001},{"s":"c4","x":119,"y":0.0002},{"s":"c4","x":120,"y":0.0002},{"s":"c4","x":121,"y":0},{"s":"c4","x":122,"y":0},{"s":"c4","x":125,"y":0},{"s":"c4","x":129,"y":0},
{"s":"c5","x":1,"y":0.002},{"s":"c5","x":2,"y":-0.002},{"s":"c5","x":3,"y":0.029},{"s":"c5","x":4,"y":0.031},{"s":"c5","x":5,"y":0.015},{"s":"c5","x":6,"y":0.019},{"s":"c5","x":7,"y":0.060},{"s":"c5","x":8,"y":0.049},{"s":"c5","x":9,"y":0.017},{"s":"c5","x":10,"y":0.0063},{"s":"c5","x":11,"y":0.0057},{"s":"c5","x":12,"y":0.0053},{"s":"c5","x":14,"y":0.0049},{"s":"c5","x":17,"y":0.0044},{"s":"c5","x":21,"y":0.004},{"s":"c5","x":25,"y":0.0032},{"s":"c5","x":26,"y":-0.016},{"s":"c5","x":27,"y":0.003},{"s":"c5","x":28,"y":0.0015},{"s":"c5","x":29,"y":0.012},{"s":"c5","x":30,"y":-0.001},{"s":"c5","x":31,"y":0.0025},{"s":"c5","x":32,"y":0.0008},{"s":"c5","x":33,"y":0},{"s":"c5","x":34,"y":0},{"s":"c5","x":36,"y":0},{"s":"c5","x":47,"y":0},{"s":"c5","x":48,"y":0},{"s":"c5","x":49,"y":-0.0028},{"s":"c5","x":50,"y":0.0095},{"s":"c5","x":51,"y":-0.016},{"s":"c5","x":52,"y":0.0085},{"s":"c5","x":53,"y":-0.0018},{"s":"c5","x":54,"y":0.0004},{"s":"c5","x":55,"y":0.0006},{"s":"c5","x":56,"y":-0.0004},{"s":"c5","x":57,"y":-0.002},{"s":"c5","x":58,"y":0.0095},{"s":"c5","x":59,"y":-0.0085},{"s":"c5","x":60,"y":0.012},{"s":"c5","x":61,"y":-0.0012},{"s":"c5","x":62,"y":0.0003},{"s":"c5","x":63,"y":0},{"s":"c5","x":65,"y":0},{"s":"c5","x":70,"y":0},{"s":"c5","x":80,"y":0},{"s":"c5","x":90,"y":0},{"s":"c5","x":97,"y":0},{"s":"c5","x":98,"y":-0.0004},{"s":"c5","x":99,"y":0.001},{"s":"c5","x":100,"y":0.0022},{"s":"c5","x":101,"y":-0.0045},{"s":"c5","x":102,"y":0.0009},{"s":"c5","x":103,"y":0},{"s":"c5","x":104,"y":0.0001},{"s":"c5","x":106,"y":0},{"s":"c5","x":112,"y":0},{"s":"c5","x":113,"y":0.0004},{"s":"c5","x":114,"y":-0.0002},{"s":"c5","x":115,"y":0.0006},{"s":"c5","x":116,"y":-0.0018},{"s":"c5","x":117,"y":0.0042},{"s":"c5","x":118,"y":-0.0008},{"s":"c5","x":119,"y":0.0004},{"s":"c5","x":120,"y":0},{"s":"c5","x":121,"y":0.0001},{"s":"c5","x":122,"y":0},{"s":"c5","x":125,"y":0},{"s":"c5","x":129,"y":0}
]
},
"data":{"name":"curves"},
"transform":[{"lookup":"s","from":{"data":{"name":"subjects"},"key":"s","fields":["group"]}}],
"layer":[
{
"mark":{"type":"line","strokeWidth":1,"clip":true},
"encoding":{
"x":{"field":"x","type":"quantitative","scale":{"domain":[1,129.52],"nice":false,"zero":false},
"axis":{"orient":"bottom","values":[20,40,60,80,100,120],"title":null,"grid":false,"tickSize":-5,"labelPadding":6}},
"y":{"field":"y","type":"quantitative","scale":{"domain":[-0.05575,0.0895],"nice":false,"zero":false},
"axis":{"orient":"left","values":[-0.04,-0.02,0,0.02,0.04,0.06,0.08],"title":null,"grid":false,"tickSize":-5,"labelPadding":11,
"labelExpr":"replace(format(datum.value, '.2~f'), '\u2212', '-')"}},
"color":{"field":"group","type":"nominal",
"scale":{"domain":["healthy young","healthy elderly","chronic stroke patients"],"range":["#000000","#22bb44","#e020e0"]},
"legend":{"title":null,"orient":"none","legendX":956,"legendY":4}},
"detail":{"field":"s","type":"nominal"}
}
},
{
"mark":{"type":"point","opacity":0},
"encoding":{
"x":{"field":"x","type":"quantitative",
"axis":{"orient":"top","values":[20,40,60,80,100,120],"title":null,"grid":false,"tickSize":-5,"labels":false}},
"y":{"field":"y","type":"quantitative",
"axis":{"orient":"right","values":[-0.04,-0.02,0,0.02,0.04,0.06,0.08],"title":null,"grid":false,"tickSize":-5,"labels":false}}
}
}
],
"resolve":{"axis":{"x":"independent","y":"independent"}},
"config":{
"view":{"stroke":"#333333","strokeWidth":1},
"axis":{"labelFont":"DejaVu Sans","labelFontSize":11,"labelColor":"#222222","tickColor":"#333333","domainColor":"#333333"},
"legend":{"strokeColor":"#333333","fillColor":"#ffffff","padding":3,"symbolType":"M-0.43,0H10.14","symbolStrokeWidth":4,"symbolSize":49,"labelFont":"DejaVu Sans","labelFontSize":10,"labelColor":"#000000","rowPadding":0,"clipHeight":13,"labelOffset":35}
}
}
